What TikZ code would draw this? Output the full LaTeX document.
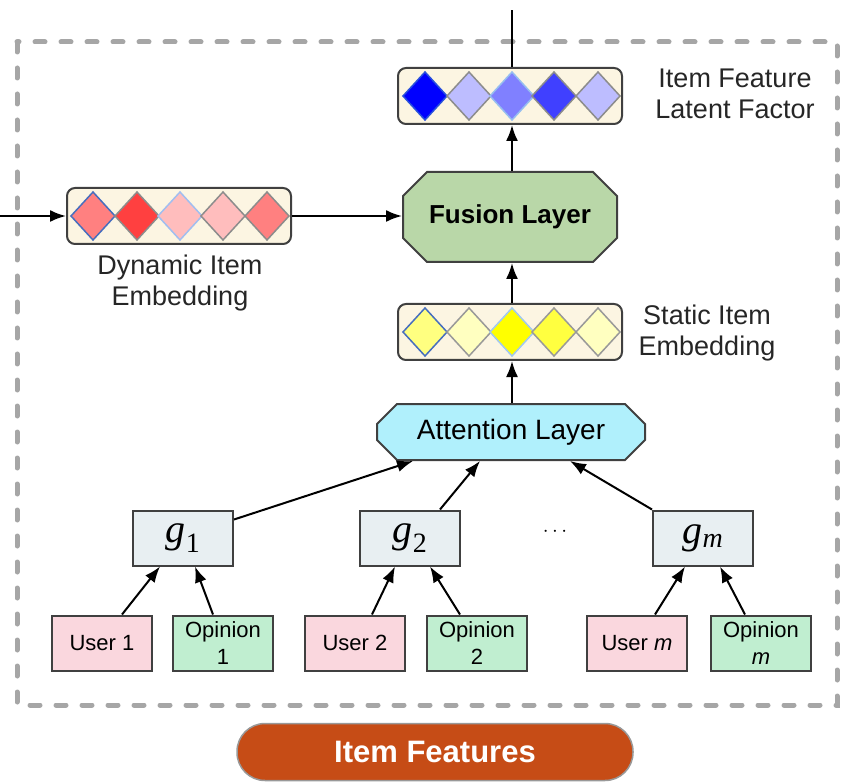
\documentclass[tikz,border=0pt]{standalone}
\usepackage{fontspec}
\setmainfont{Liberation Sans}
\newfontfamily\gfont{Liberation Serif}
\usetikzlibrary{arrows.meta,shapes.misc}

\tikzset{
  arr/.style={line width=2pt, -{Latex[length=16pt,width=12pt]}},
  embbox/.style={draw=black!75, line width=2pt, rounded corners=8pt,
    fill={rgb,255:red,252;green,245;blue,226}, minimum width=224pt, minimum height=56pt},
  layerbox/.style={draw=black!75, line width=2pt, chamfered rectangle,
    chamfered rectangle xsep=12pt, chamfered rectangle ysep=12pt, inner sep=0pt},
  gbox/.style={draw=black!75, line width=2pt, fill={rgb,255:red,232;green,239;blue,242},
    minimum width=100pt, minimum height=55pt, inner sep=0pt},
  userbox/.style={draw=black!75, line width=2pt, fill={rgb,255:red,250;green,215;blue,222},
    minimum width=100pt, minimum height=55pt, inner sep=0pt, align=center,
    font=\fontsize{22}{27}\selectfont},
  opinionbox/.style={userbox, fill={rgb,255:red,192;green,238;blue,208}},
  lbl/.style={align=center, font=\fontsize{27}{31}\selectfont, text=black!85}
}
\providecommand{\gsym}[1]{{\gfont\fontsize{40}{40}\selectfont\itshape g\textsubscript{#1}}}

\begin{document}
\begin{tikzpicture}[x=1pt,y=-1pt]
\useasboundingbox (0,0) rectangle (843,783);
% Outer dashed frame
\draw[black!35, line width=5pt, line cap=round, dash pattern=on 10pt off 16pt]
  (17,42) rectangle (837,705);

% Embeddings and layers
\node[embbox] (latent) at (510,96) {};
\node[embbox] (dyn) at (179,216) {};
\node[embbox] (static) at (510,332) {};
\node[layerbox, fill={rgb,255:red,185;green,215;blue,168}, minimum width=214pt, minimum height=90pt,
  font=\fontsize{26}{26}\selectfont\bfseries] (fusion) at (510,217) {Fusion Layer};
\node[layerbox, chamfered rectangle xsep=10pt, chamfered rectangle ysep=10pt,
  fill={rgb,255:red,176;green,240;blue,252}, minimum width=268pt, minimum height=56pt,
  font=\fontsize{28}{28}\selectfont] (att) at (511,432) {Attention Layer};

% Diamonds: latent factor
\begin{scope}[line width=1.5pt]
  \filldraw[fill={rgb,255:red,0;green,0;blue,255}, draw={rgb,255:red,40;green,80;blue,220}] (403,96) -- (425,72) -- (447,96) -- (425,120) -- cycle;
  \filldraw[fill={rgb,255:red,189;green,189;blue,255}, draw=black!45] (447,96) -- (469,72) -- (491,96) -- (469,120) -- cycle;
  \filldraw[fill={rgb,255:red,128;green,128;blue,255}, draw={rgb,255:red,150;green,190;blue,240}] (490,96) -- (512,72) -- (534,96) -- (512,120) -- cycle;
  \filldraw[fill={rgb,255:red,64;green,64;blue,255}, draw=black!45] (532,96) -- (554,72) -- (576,96) -- (554,120) -- cycle;
  \filldraw[fill={rgb,255:red,189;green,189;blue,255}, draw=black!45] (576,96) -- (598,72) -- (620,96) -- (598,120) -- cycle;
\end{scope}
% Diamonds: dynamic item embedding
\begin{scope}[line width=1.5pt]
  \filldraw[fill={rgb,255:red,255;green,128;blue,128}, draw={rgb,255:red,70;green,110;blue,190}] (71,216) -- (93,192) -- (115,216) -- (93,240) -- cycle;
  \filldraw[fill={rgb,255:red,255;green,64;blue,64}, draw=black!45] (115,216) -- (137,192) -- (159,216) -- (137,240) -- cycle;
  \filldraw[fill={rgb,255:red,255;green,189;blue,189}, draw={rgb,255:red,160;green,190;blue,240}] (158,216) -- (180,192) -- (202,216) -- (180,240) -- cycle;
  \filldraw[fill={rgb,255:red,255;green,189;blue,189}, draw=black!45] (201,216) -- (223,192) -- (245,216) -- (223,240) -- cycle;
  \filldraw[fill={rgb,255:red,255;green,128;blue,128}, draw=black!45] (245,216) -- (267,192) -- (289,216) -- (267,240) -- cycle;
\end{scope}
% Diamonds: static item embedding
\begin{scope}[line width=1.5pt]
  \filldraw[fill={rgb,255:red,255;green,255;blue,128}, draw={rgb,255:red,70;green,110;blue,190}] (403,332) -- (425,308) -- (447,332) -- (425,356) -- cycle;
  \filldraw[fill={rgb,255:red,255;green,255;blue,192}, draw=black!40] (447,332) -- (469,308) -- (491,332) -- (469,356) -- cycle;
  \filldraw[fill={rgb,255:red,255;green,255;blue,0}, draw={rgb,255:red,160;green,200;blue,240}] (490,332) -- (512,308) -- (534,332) -- (512,356) -- cycle;
  \filldraw[fill={rgb,255:red,255;green,255;blue,64}, draw=black!40] (532,332) -- (554,308) -- (576,332) -- (554,356) -- cycle;
  \filldraw[fill={rgb,255:red,255;green,255;blue,192}, draw=black!40] (576,332) -- (598,308) -- (620,332) -- (598,356) -- cycle;
\end{scope}

% Labels
\node[lbl] (latentlbl) at (735,94) {Item Feature\\Latent Factor};
\node[lbl] (dynlbl) at (180,283) {Dynamic Item\\Embedding};
\node[lbl] (staticlbl) at (707,333) {Static Item\\Embedding};

% Aggregators
\node[gbox] (g1) at (183,538) {\gsym{\upshape 1}};
\node[gbox] (g2) at (410,538) {\gsym{\upshape 2}};
\node[gbox] (gm) at (703,538) {\gsym{m}};
\node[font=\fontsize{22}{22}\selectfont] (dots) at (555,532) {$\cdots$};

% Users and opinions
\node[userbox] (u1) at (102,643) {User 1};
\node[opinionbox] (o1) at (223,643) {Opinion\\1};
\node[userbox] (u2) at (355,643) {User 2};
\node[opinionbox] (o2) at (477,643) {Opinion\\2};
\node[userbox] (um) at (637,643) {User \textit{m}};
\node[opinionbox] (om) at (761,643) {Opinion\\\textit{m}};

% Item features input
\node[draw=black!40, line width=1.5pt, fill={rgb,255:red,198;green,76;blue,22}, rounded corners=28pt,
  minimum width=396pt, minimum height=57pt, text=white,
  font=\fontsize{31}{31}\selectfont\bfseries] (feat) at (435,752) {Item Features};

% Connectors
\coordinate (topout) at (512,10);
\coordinate (leftin) at (0,216);
\draw[line width=2pt] (latent.north -| topout) -- (topout);
\draw[arr] (leftin) -- (dyn.west);
\draw[arr] (dyn.east) -- (fusion.west |- dyn.east);
\draw[arr] (fusion.north -| topout) -- (latent.south -| topout);
\draw[arr] (static.north -| topout) -- (fusion.south -| topout);
\draw[arr] (att.north -| topout) -- (static.south -| topout);
\draw[arr] ([yshift=-10pt]g1.north east) -- ([xshift=-98pt]att.south);
\draw[arr] ([xshift=30pt]g2.north) -- ([xshift=-31pt]att.south);
\draw[arr] (gm.north west) -- ([xshift=59pt]att.south);
\draw[arr] ([xshift=20pt]u1.north) -- ([xshift=-23pt]g1.south);
\draw[arr] ([xshift=-10pt]o1.north) -- ([xshift=12pt]g1.south);
\draw[arr] ([xshift=17pt]u2.north) -- ([xshift=-15pt]g2.south);
\draw[arr] ([xshift=-17pt]o2.north) -- ([xshift=20pt]g2.south);
\draw[arr] ([xshift=18pt]um.north) -- ([xshift=-18pt]gm.south);
\draw[arr] ([xshift=-16pt]om.north) -- ([xshift=17pt]gm.south);
\end{tikzpicture}
\end{document}
